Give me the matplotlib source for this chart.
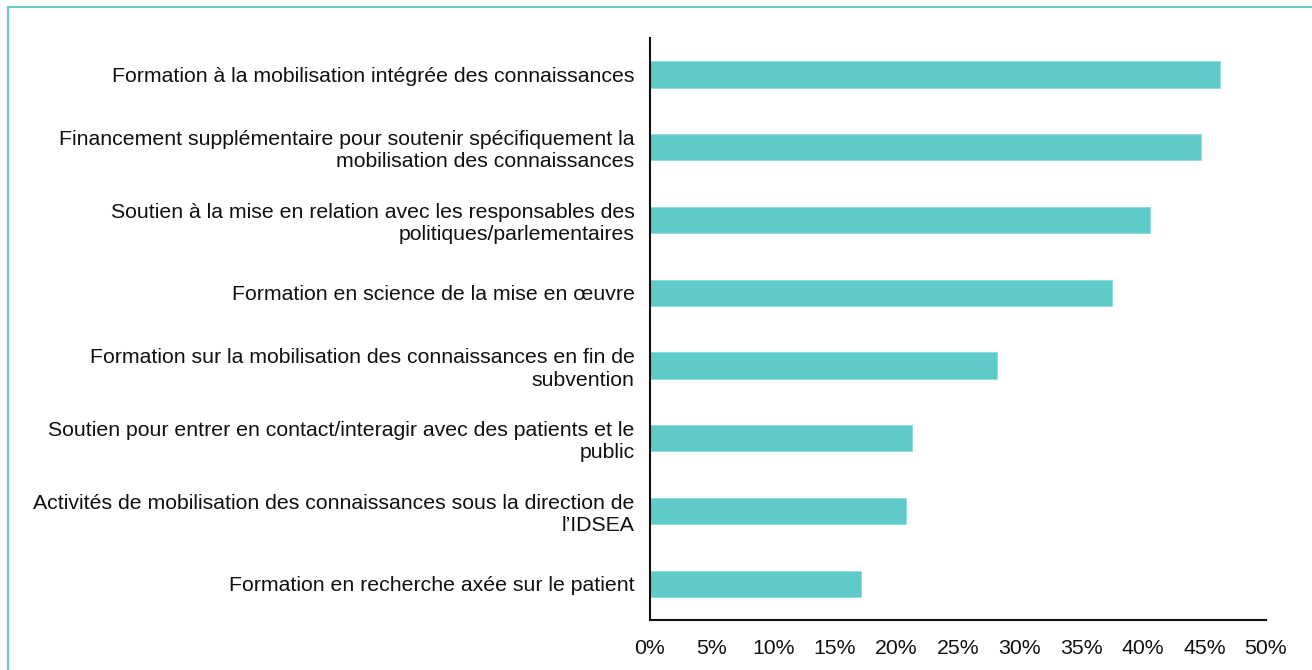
import matplotlib
matplotlib.use("Agg")
import matplotlib.pyplot as plt
from matplotlib.lines import Line2D
from matplotlib.ticker import PercentFormatter

plt.rcParams['font.family'] = ['Liberation Sans', 'DejaVu Sans']

labels = [
    "Formation à la mobilisation intégrée des connaissances",
    "Financement supplémentaire pour soutenir spécifiquement la\nmobilisation des connaissances",
    "Soutien à la mise en relation avec les responsables des\npolitiques/parlementaires",
    "Formation en science de la mise en œuvre",
    "Formation sur la mobilisation des connaissances en fin de\nsubvention",
    "Soutien pour entrer en contact/interagir avec des patients et le\npublic",
    "Activités de mobilisation des connaissances sous la direction de\nl’IDSEA",
    "Formation en recherche axée sur le patient",
]
values = [46.3, 44.7, 40.6, 37.5, 28.2, 21.3, 20.8, 17.1]

fig = plt.figure(figsize=(13.12, 6.70), dpi=100)
ax = fig.add_axes([0.4954, 0.0746, 0.4695, 0.8686])

pos = list(range(len(labels)))
ax.barh(pos, values, height=0.36, color='#5ECBC9', edgecolor='#8ADCDB', linewidth=0.6)
ax.set_ylim(len(labels) - 0.5, -0.5)
ax.set_xlim(0, 50)
ax.set_xticks(range(0, 51, 5))
ax.xaxis.set_major_formatter(PercentFormatter(decimals=0))
ax.set_yticks(pos)
ax.set_yticklabels(labels, ha='right', linespacing=1.22)
ax.tick_params(axis='both', length=0, labelsize=15.3, colors='#111111')
ax.tick_params(axis='x', pad=14)
ax.tick_params(axis='y', pad=11)
for s in ['top', 'right']:
    ax.spines[s].set_visible(False)
for s in ['left', 'bottom']:
    ax.spines[s].set_linewidth(1.5)
    ax.spines[s].set_color('#111111')

# teal frame around the figure
fig.add_artist(Line2D([8/1312, 8/1312], [0, 1 - 7/670], color='#6CC9C8', lw=1.5, transform=fig.transFigure))
fig.add_artist(Line2D([8/1312, 1], [1 - 7/670, 1 - 7/670], color='#6CC9C8', lw=1.5, transform=fig.transFigure))

fig.savefig("out.png", dpi=100)
